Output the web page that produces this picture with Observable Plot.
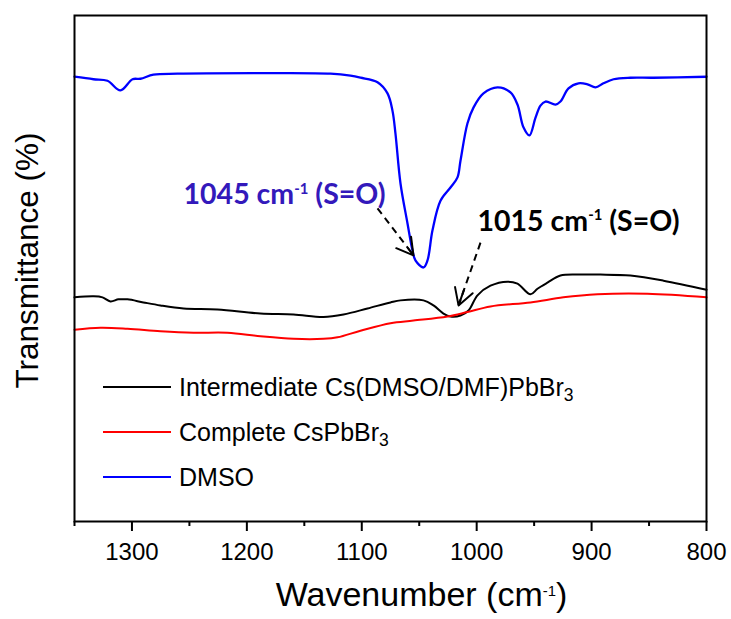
<!DOCTYPE html>
<html><head><meta charset="utf-8">
<script src="https://cdn.jsdelivr.net/npm/d3@7"></script>
<script src="https://cdn.jsdelivr.net/npm/@observablehq/plot@0.6"></script>
<style>
body{margin:0;background:#fff;}
#wrap{position:relative;width:731px;height:619px;font-family:"Liberation Sans",Arial,sans-serif;}
#legend{position:absolute;left:103px;top:0;}
.row{position:absolute;left:0;display:flex;align-items:center;white-space:nowrap;font-size:25px;height:30px;color:#000;}
.sw{width:68px;height:2.5px;margin-right:8px;}
.row sub{font-size:0.7em;vertical-align:-0.3em;line-height:0;}
</style></head><body><div id="wrap"></div>
<script>
// ---- data ----
const wnDMSO = [1350,1333.5,1321.3,1310,1299.5,1292.6,1281.3,1260.4,1188.2,1127.2,1109.8,1101.1,1086.3,1077.6,1073.3,1070.7,1066.3,1060.2,1055.9,1053.3,1046.3,1042.8,1038.5,1031.5,1022.8,1016.7,1014.1,1008,1002.8,994.1,981.9,970.6,964.5,959.3,954.1,948.8,944.5,940.1,931.4,927.1,920.1,911.4,903.6,896.6,889.7,880.9,866.2,846.2,800];
const tDMSO = [87.9,87.4,87.1,85.2,87.4,87.5,88.3,88.5,88.6,88.5,88.1,87.7,86.8,84.6,81.2,76.7,66.8,58.9,53.6,51.6,50.2,51.6,57.5,63.4,66.0,68.0,71.3,78.7,81.8,84.6,85.8,84.8,82.4,77.9,76.3,79.8,82.2,83.0,82.4,83.0,85.6,86.6,86.4,85.8,86.6,87.4,87.7,87.7,87.9];

const wnInter = [1350,1333.5,1325.6,1318.7,1311.7,1303.9,1290,1275.2,1255.1,1225.6,1188.2,1159.4,1133.3,1115.9,1095,1075,1066.3,1046.3,1037.6,1028.9,1022.8,1014.1,1007.1,999.3,988,973.2,964.5,953.2,947.1,938.4,927.1,909.7,892.3,866.2,837.5,800];
const tInter = [44.3,44.5,44.3,43.5,43.9,43.9,43.3,42.7,42.1,41.9,41.1,40.9,40.4,40.9,42.1,43.3,43.7,43.7,42.7,41.1,40.5,40.7,41.7,44.7,46.6,47.4,47.0,44.9,46.0,47.2,48.6,48.8,48.8,48.6,47.6,45.8];

const wnCs = [1350,1327.4,1303.9,1275.2,1246.4,1216.9,1188.2,1159.4,1133.3,1121.1,1101.1,1075,1055,1025.4,1008,988,953.2,924.5,894.9,851.4,800];
const tCs = [37.9,38.3,38.1,37.6,37.3,37.3,36.6,36.1,36.1,36.4,37.7,39.2,39.7,40.5,41.4,42.5,43.3,44.3,44.9,45.0,44.3];

const majorTicks = [1300,1200,1100,1000,900,800];
const minorTicks = [1350,1250,1150,1050,950,850];

const legendLabels = ["Intermediate Cs(DMSO/DMF)PbBr₃", "Complete CsPbBr₃", "DMSO"];
const legendColors = ["#000000", "#ff0000", "#0000ff"];

const annText = ["1045 cm⁻¹ (S=O)", "1015 cm⁻¹ (S=O)"];
const annX = [1255.1, 999.3];
const annY = [62.8, 57.5];
const annColor = ["#3319bb", "#000000"];

const arrowX1 = [1086.3, 996.7];
const arrowY1 = [61.9, 55.1];
const arrowX2 = [1055.0, 1015.8];
const arrowY2 = [52.6, 42.7];

const xLabel = ["Wavenumber (cm⁻¹)"];
const yLabel = ["Transmittance (%)"];

// ---- chart ----
const chart = Plot.plot({
  width: 731, height: 619,
  marginLeft: 74, marginRight: 25, marginTop: 15, marginBottom: 98,
  style: {fontFamily: '"Liberation Sans", Arial, sans-serif', fontSize: "24px", background: "white", color: "black", overflow: "visible"},
  x: {domain: [1350, 800]},
  y: {domain: [0, 100], axis: null},
  marks: [
    Plot.axisX(minorTicks, {tickSize: 5, strokeWidth: 2, fill: "none", label: null}),
    Plot.axisX(majorTicks, {tickSize: 10, strokeWidth: 2, tickPadding: 11, label: null, fontSize: 24, tickFormat: d => String(d)}),
    Plot.line(tInter, {x: wnInter, y: tInter, stroke: "#000000", strokeWidth: 2, curve: "catmull-rom"}),
    Plot.line(tCs, {x: wnCs, y: tCs, stroke: "#ff0000", strokeWidth: 2, curve: "catmull-rom"}),
    Plot.line(tDMSO, {x: wnDMSO, y: tDMSO, stroke: "#0000ff", strokeWidth: 2.3, curve: "catmull-rom"}),
    Plot.frame({stroke: "black", strokeWidth: 2}),
    Plot.link(arrowX1, {x1: arrowX1, y1: arrowY1, x2: arrowX2, y2: arrowY2, stroke: "black", strokeWidth: 2, strokeDasharray: "7,5"}),
    Plot.arrow(arrowX1, {x1: arrowX1, y1: arrowY1, x2: arrowX2, y2: arrowY2, stroke: "black", strokeWidth: 2, headLength: 14, insetStart: 50}),
    Plot.text(annText, {x: annX, y: annY, text: annText, fill: annColor, textAnchor: "start", lineAnchor: "bottom", fontSize: 28.5, fontWeight: "bold", fontFamily: "Lato, 'Open Sans', sans-serif"}),
    Plot.text(xLabel, {frameAnchor: "bottom", text: d => d, textAnchor: "middle", dy: 74, dx: 31, fontSize: 34, lineAnchor: "middle"}),
    Plot.text(yLabel, {frameAnchor: "left", text: d => d, textAnchor: "middle", rotate: -90, dx: -47, dy: -8, fontSize: 31.5, lineAnchor: "middle"})
  ]
});

// superscript handling for "⁻¹"
d3.select(chart).selectAll("text").each(function() {
  const t = this.textContent;
  if (!t.includes("⁻¹")) return;
  const fs = parseFloat(getComputedStyle(this).fontSize) || 24;
  const parts = t.split("⁻¹");
  const sel = d3.select(this);
  sel.text(null);
  sel.append("tspan").text(parts[0]);
  sel.append("tspan").attr("font-size", (fs * 0.62) + "px").attr("dy", (-fs * 0.42) + "px").text("-1");
  sel.append("tspan").attr("dy", (fs * 0.42) + "px").text(parts[1]);
});

const wrap = document.getElementById("wrap");
wrap.appendChild(chart);

const legend = d3.select(wrap).append("div").attr("id", "legend");
legendLabels.forEach((lab, i) => {
  const row = legend.append("div").attr("class", "row").style("top", (372 + 45 * i) + "px");
  row.append("div").attr("class", "sw").style("background", legendColors[i]);
  const span = row.append("span");
  const parts = lab.split("₃");
  span.append("span").text(parts[0]);
  if (parts.length > 1) { span.append("sub").text("3"); span.append("span").text(parts[1]); }
});
</script>
</body></html>
